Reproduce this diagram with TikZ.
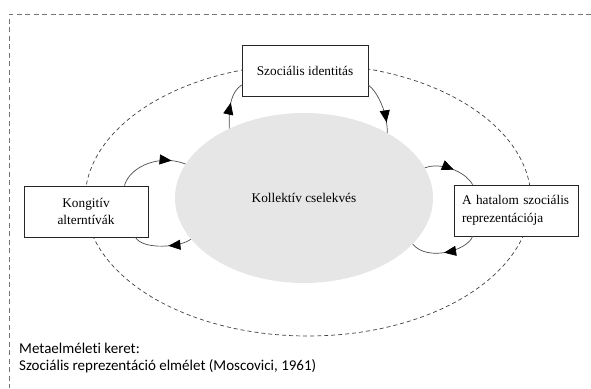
\documentclass[tikz,border=0pt]{standalone}
\usepackage{fontspec}
\setmainfont{Liberation Serif}
\newfontfamily\calfont[Ligatures=NoCommon]{Carlito}
\usetikzlibrary{decorations.markings,arrows.meta,shapes.geometric}
\definecolor{ellgray}{RGB}{230,230,230}
\begin{document}
\begin{tikzpicture}[x=1pt,y=-1pt,
  box/.style={draw=black!85,line width=0.8pt,fill=white,minimum width=126pt,minimum height=51pt,inner sep=0pt,font=\fontsize{13.3}{17.5}\selectfont},
  arc/.style={draw=black!70,line width=0.7pt},
  tipat/.style={postaction={decorate},decoration={markings,mark=at position #1 with {\arrow[black]{Triangle[length=12pt,width=10pt]}}}},
  frame/.style={draw=black!55,line width=0.8pt,dash pattern=on 5pt off 3.5pt},
  outer/.style={draw=black!75,line width=0.7pt,dash pattern=on 4pt off 3pt}
]
\useasboundingbox (0,0) rectangle (591,388);
\draw[frame] (591,14) -- (9,14) -- (9,388);
\draw[outer] (308,200) ellipse [x radius=223, y radius=136];
\node[ellipse,fill=ellgray,minimum width=258pt,minimum height=170pt,inner sep=0pt,font=\fontsize{13.3}{17.5}\selectfont] (ke) at (304,198) {Kollektív cselekvés};
\node[box,align=center] (si) at (305,71) {Szociális identitás};
\node[box,align=center,minimum width=124pt] (kon) at (86,211.5) {Kongitív\\alterntívák};
\node[box,align=left,minimum width=124pt,text width=108pt] (hat) at (516,210.5) {A hatalom szociális\\reprezentációja};
\draw[arc,tipat=0.55] (ke.137) .. controls +(-1,-24) and +(-10,7) .. ([yshift=-14pt]si.west);
\draw[arc,tipat=0.8] ([yshift=-14pt]si.east) .. controls +(10,8) and +(0,-20) .. (ke.38);
\draw[arc,tipat=0.8] ([xshift=-24pt]kon.north east) .. controls +(6,-20) and +(-25,-10) .. (ke.164);
\draw[arc,tipat=0.4] (ke.200) .. controls +(-10,8) and +(8,13) .. ([xshift=-13pt]kon.south east);
\draw[arc,tipat=0.55] (ke.14) .. controls +(15,-6) and +(-8,-14) .. ([xshift=19pt]hat.north west);
\draw[arc,tipat=0.5] ([xshift=19pt]hat.south west) .. controls +(-5,14) and +(15,18) .. (ke.-23);
\node[anchor=north west,align=left,inner sep=0pt,font=\calfont\fontsize{15}{17}\selectfont] (meta) at (19,343) {Metaelméleti keret:\\Szociális reprezentáció elmélet (Moscovici, 1961)};
\end{tikzpicture}
\end{document}
